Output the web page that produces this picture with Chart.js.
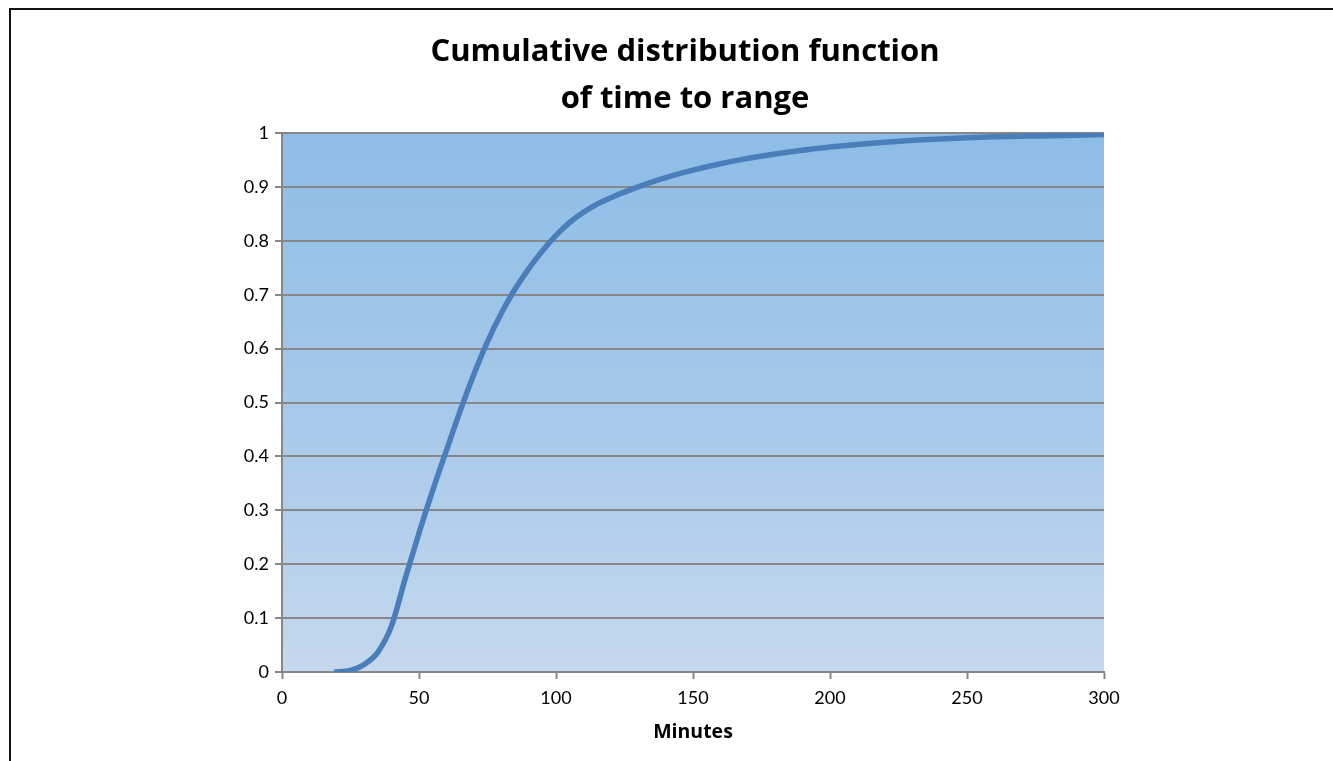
<!DOCTYPE html>
<html>
<head>
<meta charset="utf-8">
<script src="https://cdn.jsdelivr.net/npm/chart.js@4/dist/chart.umd.min.js"></script>
<style>
  html, body { margin: 0; padding: 0; background: #fff; overflow: hidden; width: 1333px; height: 761px; }
  #wrap { position: relative; width: 1333px; height: 761px; overflow: hidden; }
  .rule { position: absolute; background: #111; pointer-events: none; }
  #ruleTop { left: 9px; top: 8px; width: 1324px; height: 2px; }
  #ruleLeft { left: 9px; top: 8px; width: 2px; height: 753px; }
  canvas { position: absolute; left: 0; top: 0; }
</style>
</head>
<body>
<div id="wrap">
  <canvas id="cdfChart" width="1333" height="761"></canvas>
  <div class="rule" id="ruleTop"></div>
  <div class="rule" id="ruleLeft"></div>
</div>
<script>
// Time to range, in minutes, and the cumulative share reached by then
const minutes = [19, 25, 30, 35, 40, 45, 50, 55, 60, 65, 70, 75, 80, 85, 90, 95, 100, 105, 110, 115, 120,
                 130, 140, 150, 160, 170, 180, 190, 200, 220, 240, 260, 280, 300];
const cdf = [0, 0.003, 0.014, 0.037, 0.086, 0.174, 0.258, 0.337, 0.411, 0.484, 0.552, 0.613, 0.665, 0.71,
             0.748, 0.781, 0.81, 0.834, 0.853, 0.868, 0.880, 0.900, 0.917, 0.931, 0.943, 0.953, 0.961,
             0.968, 0.974, 0.983, 0.989, 0.993, 0.995, 0.997];

const titleLines = ['Cumulative distribution function', 'of time to range'];
const xAxisTitle = 'Minutes';

const TICK_FONT = 'Lato, "Open Sans", sans-serif';
const TITLE_FONT = '"Open Sans", Lato, sans-serif';
const AXIS_GREY = '#878787';

// Vertical blue gradient behind the plot area
const plotBackground = {
  id: 'plotBackground',
  beforeDraw(chart) {
    const { ctx, chartArea: a } = chart;
    const g = ctx.createLinearGradient(0, a.top, 0, a.bottom);
    g.addColorStop(0, '#8dbde6');
    g.addColorStop(0.5, '#a6c8ea');
    g.addColorStop(1, '#c4d8ed');
    ctx.save();
    ctx.fillStyle = g;
    ctx.fillRect(a.left, a.top, a.right - a.left, a.bottom - a.top);
    ctx.restore();
  }
};

new Chart(document.getElementById('cdfChart'), {
  type: 'line',
  data: {
    datasets: [{
      data: minutes.map((m, i) => ({ x: m, y: cdf[i] })),
      borderColor: '#4a7ebb',
      borderWidth: 5.5,
      pointRadius: 0,
      fill: false,
      cubicInterpolationMode: 'monotone'
    }]
  },
  options: {
    responsive: false,
    animation: false,
    devicePixelRatio: 1,
    layout: { padding: { left: 37, right: 0, top: 0, bottom: 0 } },
    plugins: {
      legend: { display: false },
      tooltip: { enabled: false },
      title: {
        display: true,
        text: titleLines,
        color: '#000',
        font: { family: TITLE_FONT, size: 31, weight: 'bold', lineHeight: 47 / 31 },
        padding: { top: 29, bottom: 10 }
      }
    },
    scales: {
      x: {
        type: 'linear',
        min: 0,
        max: 300,
        ticks: { stepSize: 50, color: '#000', font: { family: TICK_FONT, size: 18 }, padding: 8, maxRotation: 0 },
        grid: { drawOnChartArea: false, drawTicks: true, tickLength: 7, tickColor: AXIS_GREY, tickWidth: 2 },
        border: { color: AXIS_GREY, width: 2 },
        title: {
          display: true,
          text: xAxisTitle,
          color: '#000',
          font: { family: TITLE_FONT, size: 19.5, weight: 'bold' },
          padding: { top: 0, bottom: 17 }
        },
        afterFit(scale) { scale.height = 89; }
      },
      y: {
        position: 'left',
        min: 0,
        max: 1,
        ticks: {
          stepSize: 0.1, color: '#000', font: { family: TICK_FONT, size: 18 }, padding: 6,
          callback: (v) => String(Number(v.toFixed(1)))
        },
        grid: { color: AXIS_GREY, lineWidth: 2, tickLength: 7, tickColor: AXIS_GREY, tickWidth: 2 },
        border: { color: AXIS_GREY, width: 2 },
        afterFit(scale) { scale.width = 245; }
      },
      // empty right-hand margin so the plot stops short of the page edge
      margin: {
        position: 'right',
        min: 0,
        max: 1,
        ticks: { display: false },
        grid: { display: false },
        border: { display: false },
        afterFit(scale) { scale.width = 229; }
      }
    }
  },
  plugins: [plotBackground]
});
</script>
</body>
</html>
